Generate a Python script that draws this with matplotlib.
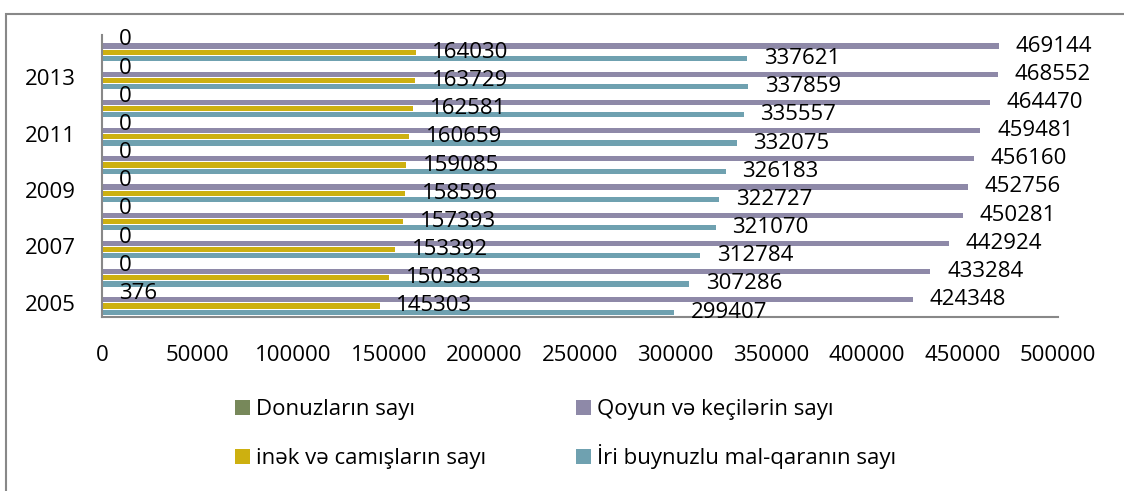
import numpy as np
import matplotlib.pyplot as plt
from matplotlib.patches import Rectangle

plt.rcParams['font.family'] = ['Open Sans', 'DejaVu Sans']

years = [2005, 2006, 2007, 2008, 2009, 2010, 2011, 2012, 2013, 2014]
iri = [299407, 307286, 312784, 321070, 322727, 326183, 332075, 335557, 337859, 337621]
inek = [145303, 150383, 153392, 157393, 158596, 159085, 160659, 162581, 163729, 164030]
qoyun = [424348, 433284, 442924, 450281, 452756, 456160, 459481, 464470, 468552, 469144]
donuz = [376, 0, 0, 0, 0, 0, 0, 0, 0, 0]

names = ["İri buynuzlu mal-qaranın sayı", "inək və camışların sayı",
         "Qoyun və keçilərin sayı", "Donuzların sayı"]
colors = ["#6FA1B0", "#CDB010", "#8E89A8", "#77885A"]
series = [iri, inek, qoyun, donuz]
offsets = [-0.33, -0.11, 0.11, 0.33]

W, H = 1124, 491
fig = plt.figure(figsize=(W / 100, H / 100), dpi=100)
ax = fig.add_axes([0.0907, 0.3544, 0.8505, 0.5743])

y = np.arange(len(years))
for vals, off, c, n in zip(series, offsets, colors, names):
    ax.barh(y + off, vals, height=0.18, color=c, label=n)
    for yy, v in zip(y + off, vals):
        ax.annotate(str(v), (v, yy), xytext=(12, 0), textcoords='offset points',
                    va='center', ha='left', fontsize=16, color='black')

ax.set_xlim(0, 500000)
ax.set_ylim(-0.5, 9.5)
ax.set_xticks(np.arange(0, 500001, 50000))
ax.set_xticklabels([str(t) for t in range(0, 500001, 50000)], fontsize=16)
ax.set_yticks(y[::2])
ax.set_yticklabels([str(v) for v in years[::2]], fontsize=16)
ax.tick_params(axis='both', length=0)
ax.tick_params(axis='y', pad=19)
ax.tick_params(axis='x', pad=20)
for s in ['top', 'right']:
    ax.spines[s].set_visible(False)
for s in ['left', 'bottom']:
    ax.spines[s].set_color('#888888')
    ax.spines[s].set_linewidth(1.5)

# legend drawn by hand: (series index, square left px, row centre px)
legend_items = [(3, 235, 407.5), (1, 235, 456), (2, 576, 407.5), (0, 576, 456)]
for i, lx, ly in legend_items:
    fig.patches.append(Rectangle((lx / W, 1 - (ly + 7.5) / H), 15 / W, 15 / H,
                                 transform=fig.transFigure, facecolor=colors[i],
                                 edgecolor='none'))
    fig.text((lx + 21) / W, 1 - (ly + 8) / H, names[i], fontsize=16,
             ha='left', va='baseline')

# outer chart border (cut off at right and bottom)
fig.patches.append(Rectangle((6 / W, -0.1), 1.2, (H - 14) / H + 0.1,
                             transform=fig.transFigure, fill=False,
                             edgecolor='#888888', linewidth=1.5))

fig.savefig("out.png", dpi=100)
